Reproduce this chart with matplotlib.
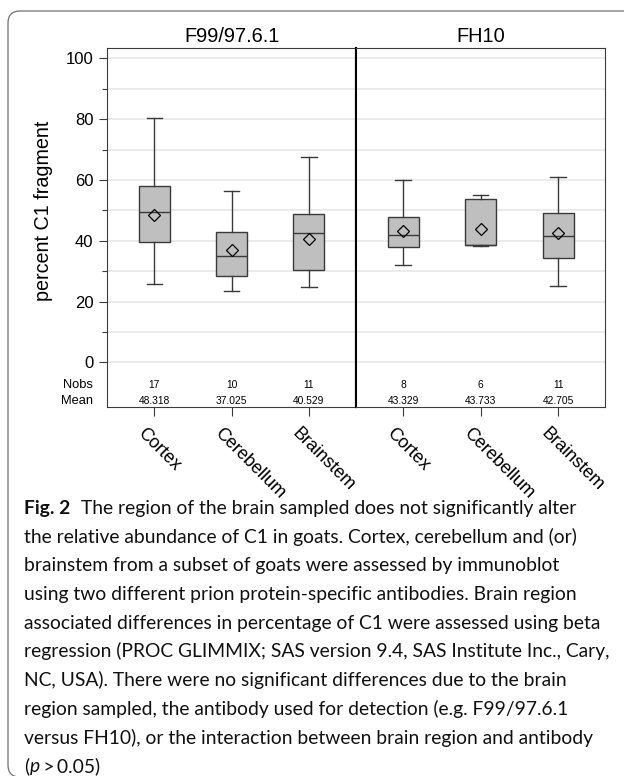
import matplotlib
matplotlib.use("Agg")
import matplotlib.pyplot as plt
from matplotlib.patches import FancyBboxPatch
from matplotlib.transforms import ScaledTranslation, blended_transform_factory

# ---------------- data ----------------
antibodies = ["F99/97.6.1", "FH10"]
regions = ["Cortex", "Cerebellum", "Brainstem"]
whisker_low = [[25.7, 23.4, 24.9], [32.1, 38.3, 25.2]]
q1 = [[39.5, 28.3, 30.4], [37.8, 38.5, 34.3]]
median = [[49.3, 35.1, 42.6], [41.8, 38.5, 41.4]]
q3 = [[58.1, 42.9, 48.9], [47.8, 53.6, 49.0]]
whisker_high = [[80.3, 56.2, 67.4], [60.1, 55.0, 60.9]]
nobs = [[17, 10, 11], [8, 6, 11]]
means = [[48.318, 37.025, 40.529], [43.329, 43.733, 42.705]]
y_ticks = [0, 20, 40, 60, 80, 100]
y_label = "percent C1 fragment"

caption_lines = [
    "The region of the brain sampled does not significantly alter",
    "the relative abundance of C1 in goats. Cortex, cerebellum and (or)",
    "brainstem from a subset of goats were assessed by immunoblot",
    "using two different prion protein-specific antibodies. Brain region",
    "associated differences in percentage of C1 were assessed using beta",
    "regression (PROC GLIMMIX; SAS version 9.4, SAS Institute Inc., Cary,",
    "NC, USA). There were no significant differences due to the brain",
    "region sampled, the antibody used for detection (e.g. F99/97.6.1",
    "versus FH10), or the interaction between brain region and antibody",
]

# ---------------- figure ----------------
W, H = 624, 776
fig = plt.figure(figsize=(W / 100, H / 100), dpi=100)
fig.patch.set_facecolor("white")
plt.rcParams["font.family"] = ["Liberation Sans", "DejaVu Sans"]


def rect(x0, x1, y0, y1):
    return [x0 / W, 1 - y1 / H, (x1 - x0) / W, (y1 - y0) / H]


# outer rounded frame
frame = FancyBboxPatch((8 / 100, -0.01), 6.5, (H - 11) / 100 + 0.01,
                       boxstyle="round,pad=0,rounding_size=0.12",
                       transform=fig.dpi_scale_trans, fill=False,
                       edgecolor="#707070", linewidth=0.9, clip_on=False)
fig.add_artist(frame)

axL = fig.add_axes(rect(107.3, 356, 47.7, 407.3))
axR = fig.add_axes(rect(356, 605.3, 47.7, 407.3), sharey=axL)

box_face = "#bfbfbf"
line_col = "#3a3a3a"
font_main = ["Liberation Sans", "DejaVu Sans"]

for k, ax in enumerate([axL, axR]):
    stats = []
    for i in range(3):
        stats.append(dict(med=median[k][i], q1=q1[k][i], q3=q3[k][i],
                          whislo=whisker_low[k][i], whishi=whisker_high[k][i],
                          mean=means[k][i], fliers=[]))
    ax.bxp(stats, positions=[1, 2, 3], widths=0.4, patch_artist=True,
           showmeans=True, showfliers=False,
           boxprops=dict(facecolor=box_face, edgecolor=line_col, linewidth=1.0),
           medianprops=dict(color=line_col, linewidth=1.0),
           whiskerprops=dict(color=line_col, linewidth=1.0),
           capprops=dict(color=line_col, linewidth=1.0),
           capwidths=0.2,
           meanprops=dict(marker="D", markerfacecolor="none",
                          markeredgecolor="black", markeredgewidth=0.9,
                          markersize=5.8),
           zorder=3)
    ax.set_xlim(0.39, 3.61)
    ax.set_ylim(-14.8, 103.5)
    ax.set_yticks(y_ticks)
    ax.set_yticks(range(10, 100, 20), minor=True)
    ax.grid(axis="y", which="both", color="#e6e6e6", linewidth=1.1, zorder=0)
    ax.set_axisbelow(True)
    ax.set_xticks([1, 2, 3])
    ax.set_xticklabels(regions, rotation=-45, ha="left", va="top",
                       rotation_mode="anchor", fontsize=13,
                       family=font_main)
    ax.tick_params(axis="x", length=6.4, width=0.8, color=line_col, pad=6.5,
                   top=False)
    for lab in ax.get_xticklabels():
        lab.set_transform(lab.get_transform() +
                          ScaledTranslation(-8 / 100, 0, fig.dpi_scale_trans))
    for sp in ax.spines.values():
        sp.set_color("#3c3c3c")
        sp.set_linewidth(0.8)
    ax.set_title(antibodies[k], fontsize=14.4, pad=4.3, family=font_main)
    for i in range(3):
        ax.text(i + 1, -7.5, str(nobs[k][i]), ha="center", va="center",
                fontsize=7.4, family=font_main)
        ax.text(i + 1, -12.7, f"{means[k][i]:.3f}", ha="center", va="center",
                fontsize=7.4, family=font_main)

axL.tick_params(axis="y", which="major", length=6, width=0.8, color=line_col,
                labelsize=12, pad=4)
axL.tick_params(axis="y", which="minor", length=3.4, width=0.8, color=line_col)
axR.tick_params(axis="y", which="both", left=False, labelleft=False)
axL.spines["right"].set_color("black")
axL.spines["right"].set_linewidth(1.5)
axR.spines["left"].set_color("black")
axR.spines["left"].set_linewidth(1.5)

tr = blended_transform_factory(axL.transAxes, axL.transData)
axL.text(-14.6 / 248.7, -7.5, "Nobs", transform=tr, ha="right", va="center",
         fontsize=9.3, family=font_main)
axL.text(-14.6 / 248.7, -12.7, "Mean", transform=tr, ha="right", va="center",
         fontsize=9.3, family=font_main)

tr2 = blended_transform_factory(fig.transFigure, axL.transData)
axL.text(44 / W, 50, y_label, transform=tr2, rotation=90, ha="center",
         va="center", fontsize=14.2, family=font_main)

# ---------------- caption ----------------
cap_family = ["Lato", "DejaVu Sans"]
renderer = fig.canvas.get_renderer()
probe = fig.text(0, 0, caption_lines[1], fontsize=10, family=cap_family)
w = probe.get_window_extent(renderer).width
probe.remove()
cap_fs = 10 * 556 / w

x0 = 24.5
base0 = 514
step = 28.7


def ypos(py):
    return 1 - py / H


fig_label = fig.text(x0 / W, ypos(base0), "Fig. 2", fontsize=cap_fs,
                     family=cap_family, weight="bold", va="baseline",
                     color="#111111")
wl = fig_label.get_window_extent(renderer).width
fig.text((x0 + wl + 10) / W, ypos(base0), caption_lines[0], fontsize=cap_fs,
         family=cap_family, va="baseline", color="#111111")
for j, line in enumerate(caption_lines[1:], start=1):
    fig.text(x0 / W, ypos(base0 + j * step), line, fontsize=cap_fs,
             family=cap_family, va="baseline", color="#111111")

# last line: (p > 0.05) with italic p
yl = ypos(base0 + 9 * step)
t1 = fig.text(x0 / W, yl, "(", fontsize=cap_fs, family=cap_family,
              va="baseline", color="#111111")
w1 = t1.get_window_extent(renderer).width
t2 = fig.text((x0 + w1) / W, yl, "p", fontsize=cap_fs, family=cap_family,
              style="italic", va="baseline", color="#111111")
w2 = t2.get_window_extent(renderer).width
fig.text((x0 + w1 + w2 + 1) / W, yl, "\u2009>\u20090.05)", fontsize=cap_fs,
         family=cap_family, va="baseline", color="#111111")

fig.savefig("out.png", dpi=100)
